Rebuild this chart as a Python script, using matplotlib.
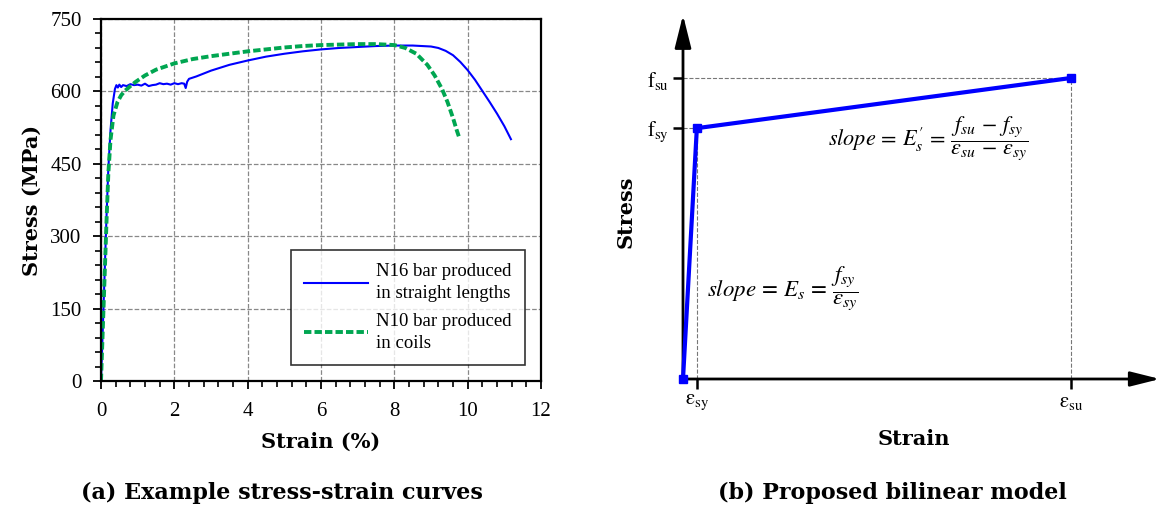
import matplotlib.pyplot as plt
from matplotlib.ticker import MultipleLocator

plt.rcParams['font.family'] = ['Liberation Serif', 'DejaVu Serif']
plt.rcParams['mathtext.fontset'] = 'stix'

# (a) measured curves, strain in %, stress in MPa
n16_strain = [0.0, 0.05, 0.1, 0.15, 0.2, 0.26, 0.32, 0.38, 0.42, 0.46, 0.5, 0.55, 0.6,
              0.7, 0.8, 0.9, 1.0, 1.1, 1.2, 1.3, 1.4, 1.5, 1.6, 1.7, 1.8, 1.9, 2.0,
              2.1, 2.2, 2.27, 2.31, 2.35, 2.4, 2.6, 3.0, 3.5, 4.0, 4.5, 5.0, 5.5,
              6.0, 6.5, 7.0, 7.5, 8.0, 8.5, 9.0, 9.2, 9.4, 9.6, 9.8, 10.0, 10.2,
              10.4, 10.6, 10.8, 11.0, 11.18]
n16_stress = [0, 110, 225, 340, 440, 520, 575, 605, 613, 608, 614, 609, 613,
              611, 615, 613, 614, 612, 616, 611, 613, 614, 617, 615, 616, 614, 617,
              615, 617, 616, 607, 620, 626, 631, 643, 655, 664, 672, 678, 683,
              687, 690, 692, 694, 695, 695, 693, 690, 684, 675, 661, 644, 624,
              601, 578, 554, 528, 501]

n10_strain = [0.0, 0.05, 0.1, 0.15, 0.2, 0.26, 0.34, 0.45, 0.55, 0.65, 0.8, 0.95,
              1.2, 1.5, 2.0, 2.5, 3.0, 3.5, 4.0, 4.5, 5.0, 5.5, 6.0, 6.5, 7.0,
              7.5, 8.0, 8.3, 8.6, 8.9, 9.1, 9.3, 9.45, 9.6, 9.7, 9.78]
n10_stress = [0, 110, 220, 330, 430, 500, 550, 578, 592, 601, 611, 620,
              633, 645, 658, 667, 673, 678, 683, 687, 691, 694, 696, 697, 698,
              698, 696, 690, 678, 655, 633, 605, 578, 545, 520, 502]

# (b) bilinear model key points (schematic)
eps_sy, eps_su = 0.0025, 0.07
f_sy, f_su = 500, 600
model_strain = [0, eps_sy, eps_su]
model_stress = [0, f_sy, f_su]

BOLD = dict(fontfamily='DejaVu Serif', fontweight='bold')

fig = plt.figure(figsize=(11.61, 5.11), dpi=100)

# ---------- panel (a) ----------
ax1 = fig.add_axes([101 / 1161, 130 / 511, 440 / 1161, 362 / 511])
ax1.plot(n16_strain, n16_stress, color='#0000ff', lw=1.5,
         label='N16 bar produced\nin straight lengths')
ax1.plot(n10_strain, n10_stress, color='#00a651', lw=2.8, ls=(0, (1.9, 0.8)),
         label='N10 bar produced\nin coils')
ax1.set_xlim(0, 12)
ax1.set_ylim(0, 750)
ax1.xaxis.set_major_locator(MultipleLocator(2))
ax1.xaxis.set_minor_locator(MultipleLocator(0.4))
ax1.yaxis.set_major_locator(MultipleLocator(150))
ax1.yaxis.set_minor_locator(MultipleLocator(30))
ax1.tick_params(which='major', length=6, width=1.3, labelsize=15, direction='out')
ax1.tick_params(which='minor', length=4, width=1.2, direction='out')
ax1.tick_params(axis='y', which='major', pad=8)
ax1.tick_params(axis='x', which='major', pad=9)
ax1.grid(True, which='major', color='#888888', ls='--', lw=0.9)
for s in ax1.spines.values():
    s.set_linewidth(1.6)
ax1.set_xlabel('Strain (%)', fontsize=15, labelpad=8, **BOLD)
ax1.set_ylabel('Stress (MPa)', fontsize=15, labelpad=6, **BOLD)
leg = ax1.legend(loc='lower right', bbox_to_anchor=(0.9636, 0.044), borderaxespad=0,
                 fontsize=13.5, frameon=True, fancybox=False, handlelength=3.4,
                 labelspacing=0.55, borderpad=0.7, handletextpad=0.45)
for t in leg.get_texts():
    t.set_linespacing(1.4)
leg.get_frame().set_edgecolor('black')
leg.get_frame().set_linewidth(1.2)

# ---------- panel (b) ----------
ax2 = fig.add_axes([683 / 1161, 132 / 511, 477 / 1161, 364 / 511])
ax2.set_xlim(0, 0.0861)
ax2.set_ylim(0, 725.6)
for side in ['top', 'right', 'left', 'bottom']:
    ax2.spines[side].set_visible(False)

# guide lines
ax2.plot([0, eps_su], [f_su, f_su], color='#777777', ls='--', lw=0.8)
ax2.plot([eps_su, eps_su], [0, f_su], color='#777777', ls='--', lw=0.8)
ax2.plot([0, eps_sy], [f_sy, f_sy], color='#777777', ls='--', lw=0.8)
ax2.plot([eps_sy, eps_sy], [0, f_sy], color='#777777', ls='--', lw=0.8)

# axes with arrow heads
ax2.annotate('', xy=(1, 0), xytext=(0, 0), xycoords='axes fraction',
             arrowprops=dict(arrowstyle='-|>,head_length=1.8,head_width=0.45',
                             lw=2, color='black', shrinkA=0, shrinkB=0),
             annotation_clip=False)
ax2.annotate('', xy=(0, 1), xytext=(0, 0), xycoords='axes fraction',
             arrowprops=dict(arrowstyle='-|>,head_length=2.0,head_width=0.5',
                             lw=2, color='black', shrinkA=0, shrinkB=0),
             annotation_clip=False)

ax2.plot(model_strain, model_stress, color='#0000ff', lw=3, marker='s', ms=6,
         clip_on=False, zorder=5)

ax2.set_xticks([eps_sy, eps_su])
ax2.set_xticklabels([r'$\mathrm{\varepsilon_{sy}}$', r'$\mathrm{\varepsilon_{su}}$'])
ax2.set_yticks([f_sy, f_su])
ax2.set_yticklabels([r'$\mathrm{f_{sy}}$', r'$\mathrm{f_{su}}$'])
ax2.tick_params(length=7, width=1.8, labelsize=15, pad=3, direction='out')

ax2.text(0.0262, 481,
         r'$slope\,=\,E_s^{\prime}\,=\,\dfrac{f_{su}\,-\,f_{sy}}{\varepsilon_{su}\,-\,\varepsilon_{sy}}$',
         fontsize=16, va='center', ha='left')
ax2.text(0.0043, 179, r'$slope\,=\,E_s\,=\,\dfrac{f_{sy}}{\varepsilon_{sy}}$',
         fontsize=16.5, va='center', ha='left')

fig.text(914 / 1161, 1 - 439 / 511, 'Strain', fontsize=15, ha='center', va='center',
         **BOLD)
fig.text(626 / 1161, 1 - 212 / 511, 'Stress', fontsize=15, ha='center', va='center',
         rotation=90, **BOLD)

# panel titles
fig.text(282 / 1161, 1 - 493 / 511, '(a) Example stress-strain curves', fontsize=16,
         ha='center', va='center', **BOLD)
fig.text(892 / 1161, 1 - 493 / 511, '(b) Proposed bilinear model', fontsize=16,
         ha='center', va='center', **BOLD)

fig.savefig('out.png', dpi=100)
